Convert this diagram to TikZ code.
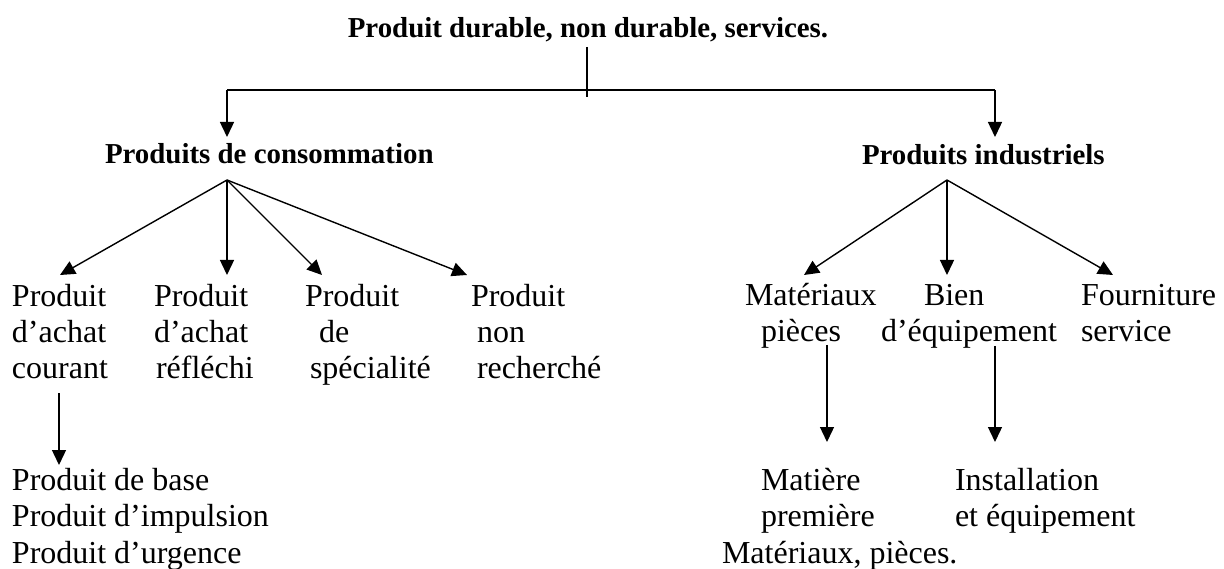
\documentclass[tikz,border=0pt]{standalone}
\usepackage{fontspec}
\setmainfont{Liberation Serif}
\usetikzlibrary{arrows.meta}
\begin{document}
\begin{tikzpicture}[x=1pt,y=-1pt,line width=1.4pt,
  arr/.style={-{Triangle[length=15pt,width=14pt]}},
  body/.style={font=\fontsize{32}{36}\selectfont,inner sep=0pt,outer sep=0pt,anchor=base west},
  head/.style={font=\bfseries\fontsize{28.9}{33}\selectfont,inner sep=0pt,outer sep=0pt,anchor=base west}]
\useasboundingbox (0,0) rectangle (1224,569);
% headings
\node[head,anchor=base] (title) at (588,38) {Produit durable, non durable, services.};
\node[head] (cons) at (105,164) {Produits de consommation};
\node[head] (ind) at (862,165) {Produits industriels};
% consumer products
\node[body] (c1a) at (12,306.7) {Produit};
\node[body] (c1b) at (12,342.7) {d’achat};
\node[body] (c1c) at (12,378.7) {courant};
\node[body] (c2a) at (154,306.7) {Produit};
\node[body] (c2b) at (154,342.7) {d’achat};
\node[body] (c2c) at (156,378.7) {réfléchi};
\node[body] (c3a) at (305,306.7) {Produit};
\node[body] (c3b) at (319,342.7) {de};
\node[body] (c3c) at (310,378.7) {spécialité};
\node[body] (c4a) at (471,306.7) {Produit};
\node[body] (c4b) at (477,342.7) {non};
\node[body] (c4c) at (477,378.7) {recherché};
\node[body] (b1a) at (12,490) {Produit de base};
\node[body] (b1b) at (12,526.7) {Produit d’impulsion};
\node[body] (b1c) at (12,563.3) {Produit d’urgence};
% industrial products
\node[body] (i1a) at (745,305.7) {Matériaux};
\node[body] (i1b) at (761,341.7) {pièces};
\node[body] (i2a) at (924,305.7) {Bien};
\node[body] (i2b) at (881,341.7) {d’équipement};
\node[body] (i3a) at (1081,305.7) {Fourniture};
\node[body] (i3b) at (1081,341.7) {service};
\node[body] (m1a) at (761,490) {Matière};
\node[body] (m1b) at (761,526.7) {première};
\node[body] (m1c) at (722,563.3) {Matériaux, pièces.};
\node[body] (m2a) at (955,490) {Installation};
\node[body] (m2b) at (955,526.7) {et équipement};
% connector points
\coordinate (t0) at (587,47);
\coordinate (t1) at (587,97);
\coordinate (hl) at (227,90);
\coordinate (hr) at (995,90);
\coordinate (tc) at (227,137);
\coordinate (ti) at (995,137);
\coordinate (hubC) at (227,180);
\coordinate (hubI) at (947,180);
\coordinate (a1) at (60,275);
\coordinate (a2) at (227,275);
\coordinate (a3) at (322,275);
\coordinate (a4) at (467,275);
\coordinate (a5) at (804,275);
\coordinate (a6) at (947,275);
\coordinate (a7) at (1113,275);
\coordinate (d1s) at (59,393);
\coordinate (d1e) at (59,465);
\coordinate (d2s) at (827,345);
\coordinate (d2e) at (827,442);
\coordinate (d3s) at (995,346);
\coordinate (d3e) at (995,442);
% connectors
\draw (t0) -- (t1);
\draw (hl) -- (hr);
\draw[arr] (hl) -- (tc);
\draw[arr] (hr) -- (ti);
\foreach \t in {a1,a2,a3,a4} \draw[arr] (hubC) -- (\t);
\foreach \t in {a5,a6,a7} \draw[arr] (hubI) -- (\t);
\draw[arr] (d1s) -- (d1e);
\draw[arr] (d2s) -- (d2e);
\draw[arr] (d3s) -- (d3e);
\end{tikzpicture}
\end{document}
